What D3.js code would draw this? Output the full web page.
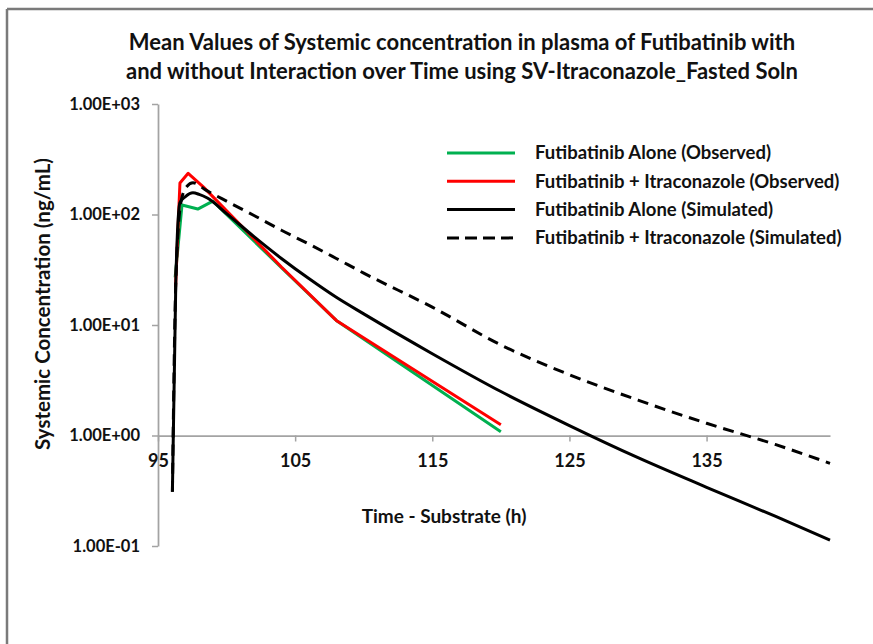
<!DOCTYPE html>
<html>
<head>
<meta charset="utf-8">
<script src="https://cdn.jsdelivr.net/npm/d3@7"></script>
<style>
  body { margin: 0; background: #fff; }
  svg { display: block; }
  text { font-family: Lato, "Open Sans", sans-serif; font-weight: 700; fill: #111; }
</style>
</head>
<body>
<svg id="chart" width="873" height="644"></svg>
<script>
// ---- Data ----
const titleLines = [
  "Mean Values of Systemic concentration in plasma of Futibatinib with",
  "and without Interaction over Time using SV-Itraconazole_Fasted Soln"
];
const xTickValues = [95, 105, 115, 125, 135];
const yTickValues = [0.1, 1, 10, 100, 1000];
const xDomain = [95, 144];
const yDomain = [0.1, 1000];

// Observed means (ng/mL)
const aloneObsTime = [96.25, 96.75, 97.9, 99, 104, 108, 120];
const aloneObsConc = [27, 122, 112, 132, 33, 11, 1.08];
const itraObsTime  = [96.28, 96.6, 97.2, 98.3, 104, 108, 120];
const itraObsConc  = [22, 193, 236, 178, 33.5, 11, 1.25];

// Simulated profiles (ng/mL)
const aloneSimTime = [96.05, 96.3, 96.6, 97.0, 97.55, 98.0, 98.6, 100, 102, 104, 106, 108, 110, 115, 120, 125, 130, 135, 140, 144];
const aloneSimConc = [0.31, 25, 128, 145, 157, 152, 141, 102, 63, 40, 26.3, 17.8, 12.6, 5.5, 2.5, 1.23, 0.63, 0.34, 0.186, 0.113];
const itraSimTime  = [96.05, 96.3, 96.7, 97.1, 97.55, 98.5, 100, 102, 104, 106, 108, 110, 115, 120, 125, 130, 135, 140, 144];
const itraSimConc  = [0.31, 25, 135, 179, 194, 166, 132, 98, 72, 54, 40, 29.5, 14.5, 6.6, 3.55, 2.09, 1.29, 0.83, 0.56];

const seriesNames = [
  "Futibatinib Alone (Observed)",
  "Futibatinib + Itraconazole (Observed)",
  "Futibatinib Alone (Simulated)",
  "Futibatinib + Itraconazole (Simulated)"
];

// ---- Chart ----
const svg = d3.select("#chart");

// frame edges (top and left)
svg.append("line").attr("x1", 7).attr("x2", 873).attr("y1", 9).attr("y2", 9)
  .attr("stroke", "#7a7a7a").attr("stroke-width", 2.5);
svg.append("line").attr("x1", 7).attr("x2", 7).attr("y1", 9).attr("y2", 644)
  .attr("stroke", "#7a7a7a").attr("stroke-width", 2.5);

const x = d3.scaleLinear().domain(xDomain).range([158, 830]);
const y = d3.scaleLog().domain(yDomain).range([546, 104]);

// title
svg.append("g").selectAll("text").data(titleLines).join("text")
  .attr("x", 462).attr("y", (d, i) => 50 + i * 29)
  .attr("text-anchor", "middle")
  .style("font-size", "22px")
  .text(d => d);

const sciFmt = d => {
  const e = Math.round(Math.log10(d));
  return "1.00E" + (e < 0 ? "-" : "+") + String(Math.abs(e)).padStart(2, "0");
};

// y axis
const yAxis = svg.append("g").attr("transform", "translate(158,0)")
  .call(d3.axisLeft(y).tickValues(yTickValues).tickFormat(sciFmt).tickSize(6).tickSizeOuter(0).tickPadding(12));

// x axis crossing at 1.00E+00
const xAxis = svg.append("g").attr("transform", `translate(0,${y(1)})`)
  .call(d3.axisBottom(x).tickValues(xTickValues).tickFormat(d3.format("d")).tickSize(6).tickSizeOuter(0).tickPadding(13));

[yAxis, xAxis].forEach(g => {
  g.select(".domain").attr("stroke", "#a3a3a3").attr("stroke-width", 1.75);
  g.selectAll(".tick line").attr("stroke", "#a3a3a3").attr("stroke-width", 1.5);
  g.selectAll(".tick text").attr("fill", "#111")
    .style("font-family", "Lato, 'Open Sans', sans-serif").style("font-weight", 700);
});
yAxis.selectAll(".tick text").style("font-size", "16.5px");
xAxis.selectAll(".tick text").style("font-size", "18px");

// axis titles
svg.append("text").attr("x", 444).attr("y", 523).attr("text-anchor", "middle")
  .style("font-size", "19px").text("Time - Substrate (h)");
svg.append("text").attr("transform", "translate(50,304) rotate(-90)")
  .attr("text-anchor", "middle").style("font-size", "20.5px")
  .text("Systemic Concentration (ng/mL)");

// series
const zipped = (ts, cs) => ts.map((t, i) => [t, cs[i]]);
const lineStraight = d3.line().x(d => x(d[0])).y(d => y(d[1]));
const lineSmooth = d3.line().x(d => x(d[0])).y(d => y(d[1])).curve(d3.curveMonotoneX);

const series = [
  { pts: zipped(aloneObsTime, aloneObsConc), color: "#00b050", dash: null, gen: lineStraight },
  { pts: zipped(itraObsTime, itraObsConc), color: "#ff0000", dash: null, gen: lineStraight },
  { pts: zipped(aloneSimTime, aloneSimConc), color: "#000", dash: null, gen: lineSmooth },
  { pts: zipped(itraSimTime, itraSimConc), color: "#000", dash: "11,7", gen: lineSmooth }
];

svg.append("g").selectAll("path").data(series).join("path")
  .attr("d", d => d.gen(d.pts))
  .attr("fill", "none")
  .attr("stroke", d => d.color)
  .attr("stroke-width", 3)
  .attr("stroke-linejoin", "round")
  .attr("stroke-dasharray", d => d.dash);

// legend
const legend = svg.append("g").selectAll("g").data(series).join("g")
  .attr("transform", (d, i) => `translate(0,${153 + i * 28.3})`);
legend.append("line").attr("x1", 447).attr("x2", 515)
  .attr("stroke", d => d.color).attr("stroke-width", 3)
  .attr("stroke-dasharray", d => d.dash ? "12,6" : null);
legend.append("text").attr("x", 535).attr("dy", "0.35em")
  .style("font-size", "18.5px").text((d, i) => seriesNames[i]);
</script>
</body>
</html>
